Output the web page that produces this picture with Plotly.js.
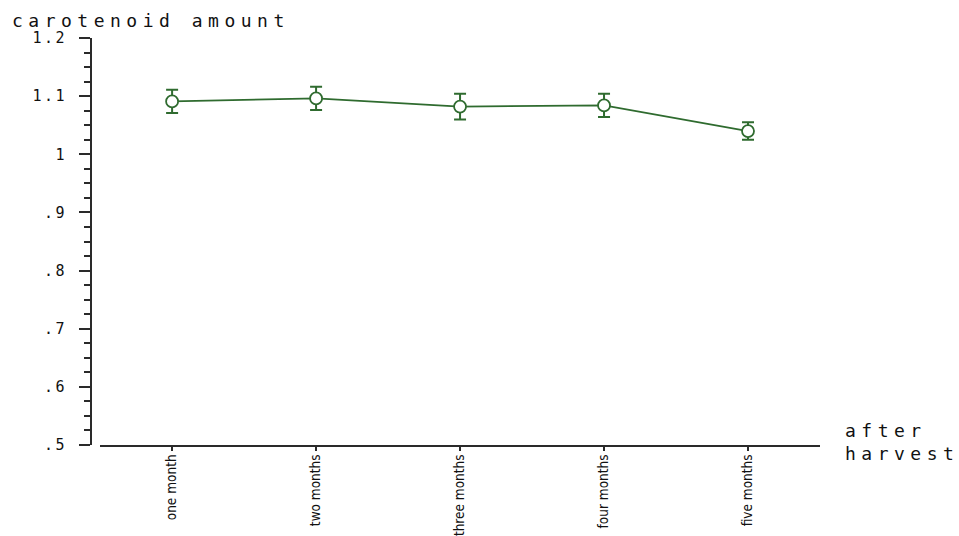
<!DOCTYPE html>
<html>
<head>
<meta charset="utf-8">
<script src="https://cdn.plot.ly/plotly-3.0.1.min.js"></script>
<style>
  html, body { margin: 0; padding: 0; background: #fff; }
  #chart { width: 959px; height: 536px; }
  /* wide, spaced-out lettering for the axis captions and y tick labels */
  .annotation-text { letter-spacing: 5.5px; }
  .ytick text { letter-spacing: 2.5px; }
</style>
</head>
<body>
<div id="chart"></div>
<script>
// Mean carotenoid amount by storage time after harvest, with error bars
const periods = ['one month', 'two months', 'three months', 'four months', 'five months'];
const meanAmount = [1.091, 1.096, 1.082, 1.084, 1.040];
const errAmount = [0.020, 0.020, 0.022, 0.020, 0.015];

const yTickVals = [0.5, 0.6, 0.7, 0.8, 0.9, 1.0, 1.1, 1.2];
const yTickText = ['.5', '.6', '.7', '.8', '.9', '1', '1.1', '1.2'];

const green = '#2f6b2f';
const axisColor = '#2a2a2a';
const monoFont = 'DejaVu Sans Mono, Liberation Mono, monospace';
const narrowFont = 'DejaVu Sans Condensed, Liberation Sans Narrow, Liberation Sans, sans-serif';

const trace = {
  type: 'scatter',
  mode: 'lines+markers',
  x: periods,
  y: meanAmount,
  line: { color: green, width: 1.8 },
  marker: {
    symbol: 'circle',
    size: 12,
    color: '#ffffff',
    line: { color: green, width: 1.8 }
  },
  error_y: {
    type: 'data',
    array: errAmount,
    visible: true,
    color: green,
    thickness: 2,
    width: 6
  },
  hoverinfo: 'x+y'
};

const layout = {
  width: 959,
  height: 536,
  margin: { l: 91, r: 139, t: 38, b: 91, pad: 0 },
  paper_bgcolor: '#ffffff',
  plot_bgcolor: '#ffffff',
  showlegend: false,
  xaxis: {
    domain: [0.0125, 1],
    type: 'category',
    range: [-0.5, 4.5],
    showline: true,
    linecolor: axisColor,
    linewidth: 2,
    showgrid: false,
    zeroline: false,
    ticks: 'outside',
    ticklen: 4,
    tickwidth: 1.5,
    tickcolor: axisColor,
    tickangle: -90,
    ticklabelstandoff: -2,
    tickfont: { family: narrowFont, size: 13.5, color: '#111' }
  },
  yaxis: {
    anchor: 'free',
    position: 0,
    range: [0.5, 1.2],
    showline: true,
    linecolor: axisColor,
    linewidth: 2,
    showgrid: false,
    zeroline: false,
    ticks: 'outside',
    ticklen: 11,
    tickwidth: 2,
    tickcolor: axisColor,
    tickmode: 'array',
    tickvals: yTickVals,
    ticktext: yTickText,
    ticklabelstandoff: 9,
    tickfont: { family: monoFont, size: 15, color: '#111' },
    minor: {
      dtick: 0.025,
      tick0: 0.5,
      ticks: 'outside',
      ticklen: 6,
      tickwidth: 2,
      tickcolor: axisColor
    }
  },
  annotations: [
    {
      text: 'carotenoid amount',
      xref: 'paper', yref: 'paper',
      x: -0.111, y: 1.044,
      xanchor: 'left', yanchor: 'middle',
      showarrow: false,
      font: { family: monoFont, size: 18, color: '#111' }
    },
    {
      text: 'after<br>harvest',
      xref: 'paper', yref: 'paper',
      x: 1.0316, y: 0.007,
      xanchor: 'left', yanchor: 'middle',
      align: 'left',
      showarrow: false,
      font: { family: monoFont, size: 18, color: '#111' }
    }
  ]
};

Plotly.newPlot('chart', [trace], layout, { displayModeBar: false, staticPlot: true });
</script>
</body>
</html>
